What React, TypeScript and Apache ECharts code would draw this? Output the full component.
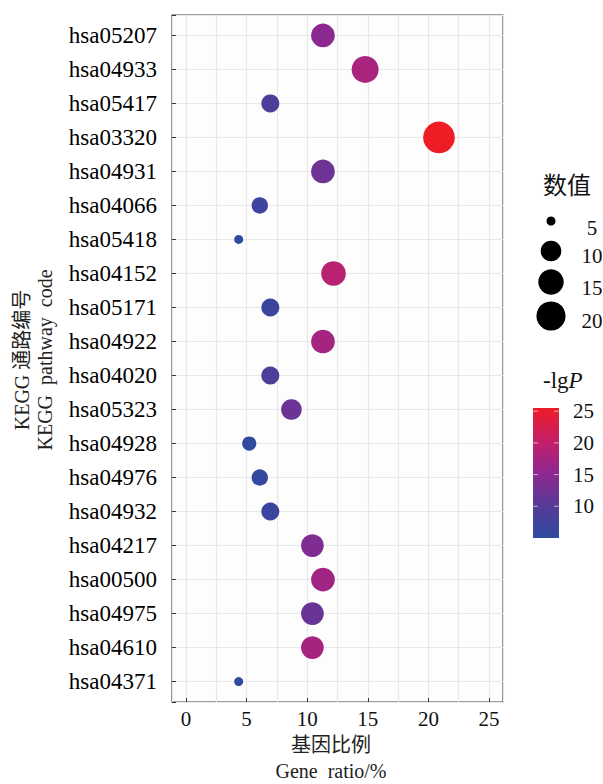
import React, { useEffect, useRef } from 'react';
import * as echarts from 'echarts';

const pathways = [
  'hsa05207', 'hsa04933', 'hsa05417', 'hsa03320', 'hsa04931',
  'hsa04066', 'hsa05418', 'hsa04152', 'hsa05171', 'hsa04922',
  'hsa04020', 'hsa05323', 'hsa04928', 'hsa04976', 'hsa04932',
  'hsa04217', 'hsa00500', 'hsa04975', 'hsa04610', 'hsa04371',
];
const geneRatio = [
  11.3, 14.78, 6.96, 20.87, 11.3,
  6.09, 4.35, 12.17, 6.96, 11.3,
  6.96, 8.7, 5.22, 6.09, 6.96,
  10.43, 11.3, 10.43, 10.43, 4.35,
];
const geneCount = [
  13, 17, 8, 24, 13,
  7, 5, 14, 8, 13,
  8, 10, 6, 7, 8,
  12, 13, 12, 12, 5,
];
const negLogP = [
  14.9, 17.7, 8.6, 25.5, 12.2,
  7.0, 5.1, 19.2, 6.7, 17.3,
  8.7, 12.0, 5.2, 5.5, 6.5,
  13.8, 16.9, 11.8, 17.3, 5.0,
];
const xTickLabels = [0, 5, 10, 15, 20, 25];
const sizeLegendValues = [5, 10, 15, 20];
const colorLegendTicks = [10, 15, 20, 25];

const COLOR_MIN = 5.0;
const COLOR_MAX = 25.5;
const colorStops = ['#2E4BA0', '#573A98', '#8F2890', '#C51F68', '#EE1C25'];
const COUNT_MIN = 5;
const COUNT_MAX = 24;

const SERIF = '"Liberation Serif", "Noto Sans CJK SC", serif';

function diameter(count: number): number {
  const t = Math.max(0, (count - COUNT_MIN) / (COUNT_MAX - COUNT_MIN));
  return 9 + 22.7 * Math.sqrt(t);
}

export default function App() {
  const ref = useRef<HTMLDivElement>(null);
  useEffect(() => {
    if (!ref.current) return;
    const chart = echarts.init(ref.current, undefined, { renderer: 'svg' });

    const barX = 533, barW = 26, barTop = 408, barBottom = 538;
    const barY = (v: number) => barBottom - ((v - COLOR_MIN) / (COLOR_MAX - COLOR_MIN)) * (barBottom - barTop);

    const sizeDotY = [221, 251, 282, 316];
    const sizeLabelY = [228, 256, 288, 321];

    const graphic: any[] = [
      {
        type: 'text', x: 22, y: 360, rotation: Math.PI / 2,
        style: { text: 'KEGG 通路编号', font: `20px ${SERIF}`, fill: '#222', textAlign: 'center', textVerticalAlign: 'middle' },
      },
      {
        type: 'text', x: 45, y: 360, rotation: Math.PI / 2,
        style: { text: 'KEGG  pathway  code', font: `20px ${SERIF}`, fill: '#222', textAlign: 'center', textVerticalAlign: 'middle' },
      },
      {
        type: 'text', x: 331, y: 745,
        style: { text: '基因比例', font: `20px ${SERIF}`, fill: '#222', textAlign: 'center', textVerticalAlign: 'middle' },
      },
      {
        type: 'text', x: 331, y: 771,
        style: { text: 'Gene  ratio/%', font: `20px ${SERIF}`, fill: '#222', textAlign: 'center', textVerticalAlign: 'middle' },
      },
      {
        type: 'text', x: 543, y: 186,
        style: { text: '数值', font: `24px ${SERIF}`, fill: '#111', textAlign: 'left', textVerticalAlign: 'middle' },
      },
      ...sizeLegendValues.flatMap((v, i) => [
        { type: 'circle', shape: { cx: 551, cy: sizeDotY[i], r: diameter(v) / 2 }, style: { fill: '#000' } },
        {
          type: 'text', x: 592, y: sizeLabelY[i],
          style: { text: String(v), font: `21px ${SERIF}`, fill: '#111', textAlign: 'center', textVerticalAlign: 'middle' },
        },
      ]),
      {
        type: 'text', x: 543, y: 380,
        style: {
          text: '{a|-lg}{b|P}', textAlign: 'left', textVerticalAlign: 'middle',
          rich: {
            a: { font: `23px ${SERIF}`, fill: '#111' },
            b: { font: `italic 23px ${SERIF}`, fill: '#111' },
          },
        },
      },
      {
        type: 'rect', shape: { x: barX, y: barTop, width: barW, height: barBottom - barTop },
        style: {
          fill: new echarts.graphic.LinearGradient(0, 1, 0, 0,
            colorStops.map((c, i) => ({ offset: i / (colorStops.length - 1), color: c }))),
        },
      },
      ...colorLegendTicks.flatMap((v) => [
        { type: 'line', shape: { x1: barX, y1: barY(v), x2: barX + 5, y2: barY(v) }, style: { stroke: 'rgba(255,255,255,0.6)', lineWidth: 1 } },
        { type: 'line', shape: { x1: barX + barW - 5, y1: barY(v), x2: barX + barW, y2: barY(v) }, style: { stroke: 'rgba(255,255,255,0.6)', lineWidth: 1 } },
        {
          type: 'text', x: 573, y: barY(v),
          style: { text: String(v), font: `21px ${SERIF}`, fill: '#111', textAlign: 'left', textVerticalAlign: 'middle' },
        },
      ]),
    ];

    chart.setOption({
      animation: false,
      backgroundColor: '#ffffff',
      grid: {
        left: 172, right: 100, top: 15, bottom: 82,
        show: true, borderColor: '#444', borderWidth: 1.2, backgroundColor: '#FDFDFD',
      },
      xAxis: {
        type: 'value', min: -1.15, max: 26.15, splitNumber: 5, position: 'bottom',
        axisLine: { show: false, onZero: false },
        axisTick: { show: true, inside: true, length: 4, lineStyle: { color: '#333' } },
        minorTick: { show: false, splitNumber: 2 },
        splitLine: { show: true, lineStyle: { color: '#E8E8E8', width: 1.2 } },
        minorSplitLine: { show: true, lineStyle: { color: '#E8E8E8', width: 1.2 } },
        axisLabel: {
          showMinLabel: false, showMaxLabel: false,
          fontFamily: SERIF, fontSize: 21, color: '#111', margin: 6,
          formatter: (v: number) => (xTickLabels.some((t) => Math.abs(t - v) < 1e-6) ? String(Math.round(v)) : ''),
        },
      },
      yAxis: {
        type: 'value', inverse: true, min: -0.6, max: pathways.length - 0.4, position: 'left',
        splitNumber: 20, minInterval: 1, maxInterval: 1,
        axisLine: { show: false, onZero: false },
        axisTick: { show: true, inside: true, length: 4, lineStyle: { color: '#333' } },
        splitLine: { show: true, lineStyle: { color: '#E8E8E8', width: 1.2 } },
        axisLabel: {
          fontFamily: SERIF, fontSize: 23, color: '#000', margin: 15,
          formatter: (v: number) => {
            const r = Math.round(v);
            return Math.abs(r - v) < 1e-6 && r >= 0 && r < pathways.length ? pathways[r] : '';
          },
        },
      },
      visualMap: {
        show: false, type: 'continuous', dimension: 2, seriesIndex: 0,
        min: COLOR_MIN, max: COLOR_MAX, inRange: { color: colorStops },
      },
      series: [
        {
          type: 'scatter',
          data: pathways.map((p, i) => [geneRatio[i], i, negLogP[i], geneCount[i], p]),
          symbolSize: (val: number[]) => diameter(val[3]),
          itemStyle: { opacity: 1 },
        },
      ],
      graphic,
    });

    return () => chart.dispose();
  }, []);

  return (
    <div
      ref={ref}
      style={{ position: 'absolute', left: 0, top: 0, width: 603, height: 784 }}
    />
  );
}
